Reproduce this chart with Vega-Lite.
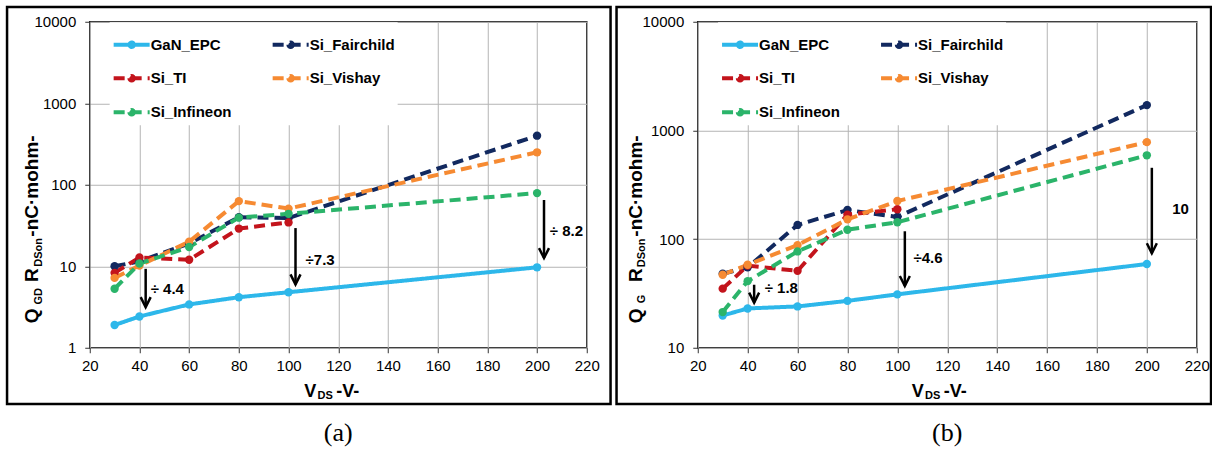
{
  "$schema": "https://vega.github.io/schema/vega-lite/v6.json",
  "background": "white",
  "padding": {"left": 4.75, "top": 4.75, "right": 0, "bottom": 0},
  "spacing": 1,
  "config": {
    "font": "Liberation Sans",
    "view": {"stroke": "#1a1a1a", "strokeWidth": 1.5},
    "axis": {
      "labelFont": "Liberation Sans", "labelFontSize": 15, "labelColor": "black",
      "gridColor": "#b4b4b4", "gridWidth": 1, "tickColor": "#333333", "tickSize": 5,
      "domain": false, "labelFlush": false, "labelOverlap": false,
      "titleFont": "Liberation Sans", "titleFontWeight": "bold", "titleColor": "black"
    },
    "title": {"font": "Liberation Serif", "fontSize": 26, "fontWeight": "normal", "color": "black", "orient": "bottom", "offset": 15}
  },
  "resolve": {
    "scale": {"color": "shared", "strokeDash": "shared"},
    "legend": {"color": "independent", "strokeDash": "independent"}
  },
  "datasets": {
    "qgd": [
      {"vds": 30, "series": "GaN_EPC", "fom": 1.9}, {"vds": 40, "series": "GaN_EPC", "fom": 2.42}, {"vds": 60, "series": "GaN_EPC", "fom": 3.4}, {"vds": 80, "series": "GaN_EPC", "fom": 4.17}, {"vds": 100, "series": "GaN_EPC", "fom": 4.8}, {"vds": 200, "series": "GaN_EPC", "fom": 9.7},
      {"vds": 30, "series": "Si_Fairchild", "fom": 10}, {"vds": 40, "series": "Si_Fairchild", "fom": 11.5}, {"vds": 60, "series": "Si_Fairchild", "fom": 19}, {"vds": 80, "series": "Si_Fairchild", "fom": 40}, {"vds": 100, "series": "Si_Fairchild", "fom": 39}, {"vds": 200, "series": "Si_Fairchild", "fom": 400},
      {"vds": 30, "series": "Si_TI", "fom": 8.3}, {"vds": 40, "series": "Si_TI", "fom": 12.8}, {"vds": 60, "series": "Si_TI", "fom": 12}, {"vds": 80, "series": "Si_TI", "fom": 29}, {"vds": 100, "series": "Si_TI", "fom": 34.5},
      {"vds": 30, "series": "Si_Vishay", "fom": 7.2}, {"vds": 40, "series": "Si_Vishay", "fom": 10.2}, {"vds": 60, "series": "Si_Vishay", "fom": 20}, {"vds": 80, "series": "Si_Vishay", "fom": 63}, {"vds": 100, "series": "Si_Vishay", "fom": 51}, {"vds": 200, "series": "Si_Vishay", "fom": 250},
      {"vds": 30, "series": "Si_Infineon", "fom": 5.3}, {"vds": 40, "series": "Si_Infineon", "fom": 10.8}, {"vds": 60, "series": "Si_Infineon", "fom": 17.2}, {"vds": 80, "series": "Si_Infineon", "fom": 39.5}, {"vds": 100, "series": "Si_Infineon", "fom": 44}, {"vds": 200, "series": "Si_Infineon", "fom": 79}
    ],
    "qg": [
      {"vds": 30, "series": "GaN_EPC", "fom": 19.8}, {"vds": 40, "series": "GaN_EPC", "fom": 23}, {"vds": 60, "series": "GaN_EPC", "fom": 24}, {"vds": 80, "series": "GaN_EPC", "fom": 27}, {"vds": 100, "series": "GaN_EPC", "fom": 31}, {"vds": 200, "series": "GaN_EPC", "fom": 59},
      {"vds": 30, "series": "Si_Fairchild", "fom": 48}, {"vds": 40, "series": "Si_Fairchild", "fom": 55}, {"vds": 60, "series": "Si_Fairchild", "fom": 135}, {"vds": 80, "series": "Si_Fairchild", "fom": 185}, {"vds": 100, "series": "Si_Fairchild", "fom": 160}, {"vds": 200, "series": "Si_Fairchild", "fom": 1710},
      {"vds": 30, "series": "Si_TI", "fom": 35}, {"vds": 40, "series": "Si_TI", "fom": 57}, {"vds": 60, "series": "Si_TI", "fom": 51}, {"vds": 80, "series": "Si_TI", "fom": 168}, {"vds": 100, "series": "Si_TI", "fom": 188},
      {"vds": 30, "series": "Si_Vishay", "fom": 47}, {"vds": 40, "series": "Si_Vishay", "fom": 58}, {"vds": 60, "series": "Si_Vishay", "fom": 88}, {"vds": 80, "series": "Si_Vishay", "fom": 152}, {"vds": 100, "series": "Si_Vishay", "fom": 224}, {"vds": 200, "series": "Si_Vishay", "fom": 780},
      {"vds": 30, "series": "Si_Infineon", "fom": 21.3}, {"vds": 40, "series": "Si_Infineon", "fom": 41}, {"vds": 60, "series": "Si_Infineon", "fom": 77}, {"vds": 80, "series": "Si_Infineon", "fom": 122}, {"vds": 100, "series": "Si_Infineon", "fom": 143}, {"vds": 200, "series": "Si_Infineon", "fom": 590}
    ],
    "arrows_qgd": [
      {"vds": 42.5, "fom": 9.3, "tip": 3.15, "label": "÷ 4.4", "lx": 51.2, "ly": 5.33},
      {"vds": 102.8, "fom": 29.4, "tip": 6, "label": "÷7.3", "lx": 112.7, "ly": 12.1},
      {"vds": 202.8, "fom": 65, "tip": 12.6, "label": "÷ 8.2", "lx": 211.8, "ly": 26.8}
    ],
    "arrows_qg": [
      {"vds": 42.6, "fom": 38, "tip": 26, "label": "÷ 1.8", "lx": 53.5, "ly": 35.2},
      {"vds": 103, "fom": 118, "tip": 37, "label": "÷4.6", "lx": 112.3, "ly": 67.3},
      {"vds": 202, "fom": 453, "tip": 74, "label": "10", "lx": 213.5, "ly": 188}
    ]
  },
  "hconcat": [
    {
      "width": 497, "height": 326,
      "title": {"text": "(a)"},
      "resolve": {"scale": {"x": "independent", "y": "independent"}},
      "layer": [
        {
          "layer": [
            {
              "data": {"name": "qgd"},
              "mark": {"type": "line", "strokeWidth": 4, "strokeJoin": "round"},
              "encoding": {
                "x": {"field": "vds", "type": "quantitative",
                  "scale": {"domain": [20, 220], "nice": false, "zero": false},
                  "axis": {"orient": "bottom", "values": [20, 40, 60, 80, 100, 120, 140, 160, 180, 200, 220], "labelPadding": 6,
                    "title": "V\u00a0\u00a0\u00a0\u00a0-V-", "titleFontSize": 18, "titleAlign": "left", "titleBaseline": "alphabetic", "titleX": 214, "titleY": 48.3}},
                "y": {"field": "fom", "type": "quantitative",
                  "scale": {"type": "log", "domain": [1, 10000], "nice": false},
                  "axis": {"orient": "left", "values": [1, 10, 100, 1000, 10000], "format": "d", "labelPadding": 9,
                    "title": "Q\u00a0\u00a0\u00a0\u00a0\u00a0R\u00a0\u00a0\u00a0\u00a0\u00a0\u00a0-nC\u00b7mohm-", "titleFontSize": 19, "titleAngle": 270, "titleAlign": "left", "titleBaseline": "alphabetic", "titleX": -52.2, "titleY": 301}},
                "color": {"field": "series", "type": "nominal",
                  "scale": {"domain": ["GaN_EPC", "Si_Fairchild", "Si_TI", "Si_Vishay", "Si_Infineon"], "range": ["#2db7ea", "#12295f", "#c3141c", "#f68a32", "#2bb46a"]},
                  "legend": {"orient": "none", "legendX": 19.9, "legendY": 0.6, "direction": "horizontal", "columns": 2, "columnPadding": 33, "rowPadding": 3, "padding": 2,
                    "fillColor": "white", "title": null, "labelFont": "Liberation Sans", "labelFontSize": 15, "labelFontWeight": "bold", "labelColor": "black", "labelOffset": -1,
                    "symbolType": "M-1,0H1M-0.125,0A0.125,0.125,0,1,0,0.125,0A0.125,0.125,0,1,0,-0.125,0Z", "symbolSize": 1296, "symbolStrokeWidth": 4,
                    "encode": {"symbols": {"update": {"fill": {"scale": "color", "field": "value"}, "stroke": {"scale": "color", "field": "value"}, "strokeDash": {"scale": "strokeDash", "field": "value"}}}}}},
                "strokeDash": {"field": "series", "type": "nominal",
                  "scale": {"domain": ["GaN_EPC", "Si_Fairchild", "Si_TI", "Si_Vishay", "Si_Infineon"], "range": [[1, 0], [11, 6], [11, 6], [11, 6], [11, 6]]},
                  "legend": null}
              }
            },
            {
              "data": {"name": "qgd"},
              "mark": {"type": "point", "filled": true, "size": 70, "opacity": 1},
              "encoding": {
                "x": {"field": "vds", "type": "quantitative"},
                "y": {"field": "fom", "type": "quantitative"},
                "color": {"field": "series", "type": "nominal"}
              }
            },
            {
              "data": {"name": "arrows_qgd"},
              "mark": {"type": "rule", "color": "black", "strokeWidth": 2.5},
              "encoding": {
                "x": {"field": "vds", "type": "quantitative"},
                "y": {"field": "fom", "type": "quantitative"},
                "y2": {"field": "tip"}
              }
            },
            {
              "data": {"name": "arrows_qgd"},
              "mark": {"type": "point", "shape": "M-1,-2L0,0L1,-2", "filled": false, "color": "black", "strokeWidth": 2.5, "size": 100, "opacity": 1},
              "encoding": {
                "x": {"field": "vds", "type": "quantitative"},
                "y": {"field": "tip", "type": "quantitative"}
              }
            },
            {
              "data": {"name": "arrows_qgd"},
              "mark": {"type": "text", "fontSize": 15, "fontWeight": "bold", "color": "black", "font": "Liberation Sans"},
              "encoding": {
                "x": {"field": "lx", "type": "quantitative"},
                "y": {"field": "ly", "type": "quantitative"},
                "text": {"field": "label"}
              }
            }
          ]
        },
        {
          "data": {"values": [{}]},
          "mark": {"type": "rect", "fill": "transparent", "stroke": "black", "strokeWidth": 2.5},
          "encoding": {
            "x": {"datum": -13.28, "type": "quantitative",
              "scale": {"domain": [20, 220], "nice": false, "zero": false},
              "axis": {"orient": "top", "labels": false, "ticks": false, "grid": false, "domain": false,
                "title": "DS", "titleFontSize": 11, "titleAlign": "left", "titleBaseline": "alphabetic", "titleAngle": 0, "titleX": 227.3, "titleY": 376.8}},
            "x2": {"datum": 229.58},
            "y": {"datum": 0.2038, "type": "quantitative",
              "scale": {"type": "log", "domain": [1, 10000], "nice": false},
              "axis": {"orient": "right", "labels": false, "ticks": false, "grid": false, "domain": false,
                "title": "GD\u00a0\u00a0\u00a0\u00a0\u00a0\u00a0\u00a0DSon", "titleFontSize": 11, "titleAngle": 270, "titleAlign": "left", "titleBaseline": "alphabetic", "titleX": -545.7, "titleY": 282.3}},
            "y2": {"datum": 15140}
          }
        }
      ]
    },
    {
      "width": 499, "height": 326,
      "title": {"text": "(b)"},
      "resolve": {"scale": {"x": "independent", "y": "independent"}},
      "layer": [
        {
          "layer": [
            {
              "data": {"name": "qg"},
              "mark": {"type": "line", "strokeWidth": 4, "strokeJoin": "round"},
              "encoding": {
                "x": {"field": "vds", "type": "quantitative",
                  "scale": {"domain": [20, 220], "nice": false, "zero": false},
                  "axis": {"orient": "bottom", "values": [20, 40, 60, 80, 100, 120, 140, 160, 180, 200, 220], "labelPadding": 6,
                    "title": "V\u00a0\u00a0\u00a0\u00a0-V-", "titleFontSize": 18, "titleAlign": "left", "titleBaseline": "alphabetic", "titleX": 213.5, "titleY": 48.3}},
                "y": {"field": "fom", "type": "quantitative",
                  "scale": {"type": "log", "domain": [10, 10000], "nice": false},
                  "axis": {"orient": "left", "values": [10, 100, 1000, 10000], "format": "d", "labelPadding": 9,
                    "title": "Q\u00a0\u00a0\u00a0\u00a0\u00a0R\u00a0\u00a0\u00a0\u00a0\u00a0\u00a0-nC\u00b7mohm-", "titleFontSize": 19, "titleAngle": 270, "titleAlign": "left", "titleBaseline": "alphabetic", "titleX": -56.7, "titleY": 301}},
                "color": {"field": "series", "type": "nominal",
                  "scale": {"domain": ["GaN_EPC", "Si_Fairchild", "Si_TI", "Si_Vishay", "Si_Infineon"], "range": ["#2db7ea", "#12295f", "#c3141c", "#f68a32", "#2bb46a"]},
                  "legend": {"orient": "none", "legendX": 20.3, "legendY": 0.6, "direction": "horizontal", "columns": 2, "columnPadding": 33, "rowPadding": 3, "padding": 2,
                    "fillColor": "white", "title": null, "labelFont": "Liberation Sans", "labelFontSize": 15, "labelFontWeight": "bold", "labelColor": "black", "labelOffset": -1,
                    "symbolType": "M-1,0H1M-0.125,0A0.125,0.125,0,1,0,0.125,0A0.125,0.125,0,1,0,-0.125,0Z", "symbolSize": 1296, "symbolStrokeWidth": 4,
                    "encode": {"symbols": {"update": {"fill": {"scale": "color", "field": "value"}, "stroke": {"scale": "color", "field": "value"}, "strokeDash": {"scale": "strokeDash", "field": "value"}}}}}},
                "strokeDash": {"field": "series", "type": "nominal",
                  "scale": {"domain": ["GaN_EPC", "Si_Fairchild", "Si_TI", "Si_Vishay", "Si_Infineon"], "range": [[1, 0], [11, 6], [11, 6], [11, 6], [11, 6]]},
                  "legend": null}
              }
            },
            {
              "data": {"name": "qg"},
              "mark": {"type": "point", "filled": true, "size": 70, "opacity": 1},
              "encoding": {
                "x": {"field": "vds", "type": "quantitative"},
                "y": {"field": "fom", "type": "quantitative"},
                "color": {"field": "series", "type": "nominal"}
              }
            },
            {
              "data": {"name": "arrows_qg"},
              "mark": {"type": "rule", "color": "black", "strokeWidth": 2.5},
              "encoding": {
                "x": {"field": "vds", "type": "quantitative"},
                "y": {"field": "fom", "type": "quantitative"},
                "y2": {"field": "tip"}
              }
            },
            {
              "data": {"name": "arrows_qg"},
              "mark": {"type": "point", "shape": "M-1,-2L0,0L1,-2", "filled": false, "color": "black", "strokeWidth": 2.5, "size": 100, "opacity": 1},
              "encoding": {
                "x": {"field": "vds", "type": "quantitative"},
                "y": {"field": "tip", "type": "quantitative"}
              }
            },
            {
              "data": {"name": "arrows_qg"},
              "mark": {"type": "text", "fontSize": 15, "fontWeight": "bold", "color": "black", "font": "Liberation Sans"},
              "encoding": {
                "x": {"field": "lx", "type": "quantitative"},
                "y": {"field": "ly", "type": "quantitative"},
                "text": {"field": "label"}
              }
            }
          ]
        },
        {
          "data": {"values": [{}]},
          "mark": {"type": "rect", "fill": "transparent", "stroke": "black", "strokeWidth": 2.5},
          "encoding": {
            "x": {"datum": -12.55, "type": "quantitative",
              "scale": {"domain": [20, 220], "nice": false, "zero": false},
              "axis": {"orient": "top", "labels": false, "ticks": false, "grid": false, "domain": false,
                "title": "DS", "titleFontSize": 11, "titleAlign": "left", "titleBaseline": "alphabetic", "titleAngle": 0, "titleX": 226.8, "titleY": 376.8}},
            "x2": {"datum": 225.73},
            "y": {"datum": 3.034, "type": "quantitative",
              "scale": {"type": "log", "domain": [10, 10000], "nice": false},
              "axis": {"orient": "right", "labels": false, "ticks": false, "grid": false, "domain": false,
                "title": "G\u00a0\u00a0\u00a0\u00a0\u00a0\u00a0\u00a0\u00a0\u00a0DSon", "titleFontSize": 11, "titleAngle": 270, "titleAlign": "left", "titleBaseline": "alphabetic", "titleX": -552.4, "titleY": 281}},
            "y2": {"datum": 13655}
          }
        }
      ]
    }
  ]
}
